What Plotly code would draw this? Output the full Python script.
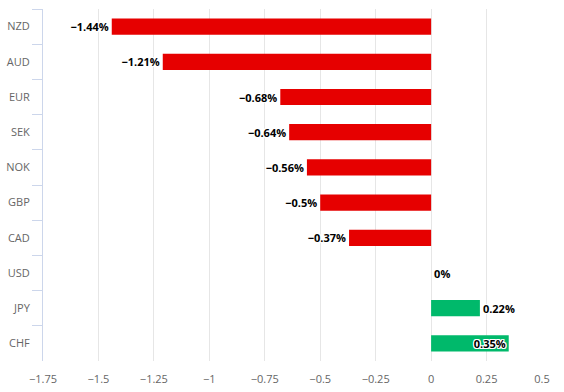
import plotly.graph_objects as go

currencies = ["NZD", "AUD", "EUR", "SEK", "NOK", "GBP", "CAD", "USD", "JPY", "CHF"]
changes = [-1.44, -1.21, -0.68, -0.64, -0.56, -0.5, -0.37, 0, 0.22, 0.35]
x_ticks = [-1.75, -1.5, -1.25, -1, -0.75, -0.5, -0.25, 0, 0.25, 0.5]

def fmt(v):
    s = ("%g" % v)
    return s.replace("-", "\u2212") + "%"

def fmt_tick(v):
    return ("%g" % v).replace("-", "\u2212")

colors = ["#e60000" if v < 0 else "#00b96b" for v in changes]
labels = [fmt(v) for v in changes]
positions = ["inside" if v >= 0.3 else "outside" for v in changes]

outline = "1px 0 0 #fff, -1px 0 0 #fff, 0 1px 0 #fff, 0 -1px 0 #fff, 1px 1px 0 #fff, -1px -1px 0 #fff, 1px -1px 0 #fff, -1px 1px 0 #fff"

fig = go.Figure(go.Bar(
    x=changes, y=currencies, orientation="h",
    marker=dict(color=colors, line=dict(width=0)),
    width=0.46,
    text=labels, textposition=positions,
    insidetextanchor="end",
    textangle=0,
    textfont=dict(family="Open Sans, DejaVu Sans, sans-serif", size=11, color="#000000",
                  weight="bold", shadow=outline),
    insidetextfont=dict(color="#000000", size=11),
    outsidetextfont=dict(color="#000000", size=11),
    cliponaxis=False,
    hoverinfo="skip",
))

fig.update_layout(
    width=564, height=392,
    margin=dict(l=43, r=22, t=9, b=31),
    paper_bgcolor="#ffffff", plot_bgcolor="#ffffff",
    showlegend=False,
    hovermode=False,
    uniformtext=dict(mode="show", minsize=11),
    font=dict(family="Open Sans, DejaVu Sans, sans-serif", size=11, color="#666666"),
    xaxis=dict(
        range=[-1.75, 0.5], automargin=False,
        tickmode="array", tickvals=x_ticks, ticktext=[fmt_tick(v) for v in x_ticks],
        showgrid=True, gridcolor="#e6e6e6", gridwidth=1,
        zeroline=False, showline=False, ticks="",
        tickfont=dict(size=11, color="#666666"),
        ticklabelstandoff=10,
    ),
    yaxis=dict(
        categoryorder="array", categoryarray=currencies, autorange="reversed",
        automargin=False,
        showgrid=False, zeroline=False,
        showline=True, linecolor="#ccd6eb", linewidth=1,
        ticks="outside", tickson="boundaries", ticklen=10, tickcolor="#ccd6eb",
        tickfont=dict(size=11, color="#666666"),
        ticklabelstandoff=10,
    ),
)

# remove the browser's default 8px body margin so the figure fills the window
fig.write_html(
    "out.html",
    config={"displayModeBar": False, "staticPlot": True},
    post_script="document.body.style.margin='0';document.body.style.overflow='hidden';",
)
